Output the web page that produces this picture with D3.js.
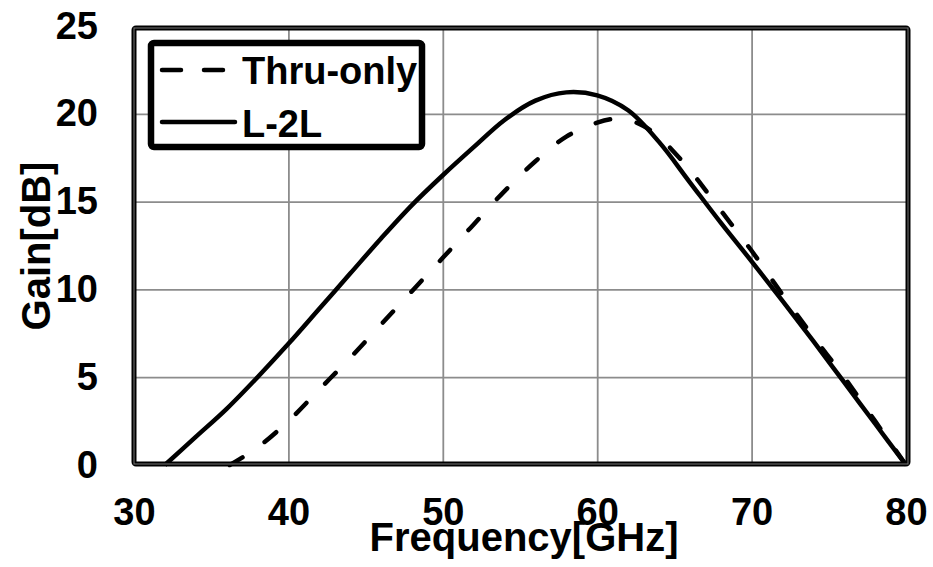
<!DOCTYPE html>
<html>
<head>
<meta charset="utf-8">
<script src="https://cdn.jsdelivr.net/npm/d3@7"></script>
<style>
  body { margin: 0; background: #ffffff; }
  text { font-family: "Liberation Sans", Arial, sans-serif; font-weight: bold; fill: #000; }
</style>
</head>
<body>
<div id="container"></div>
<script>
/* DATA */
const freqL2L = [32, 34, 36, 38, 40, 42, 44, 46, 48, 50, 52, 54, 56, 58, 60, 62, 64, 66, 68, 70, 72, 74, 76, 78, 80];
const gainL2L = [0, 1.6, 3.2, 5.0, 6.9, 8.9, 10.9, 12.9, 14.8, 16.5, 18.1, 19.65, 20.75, 21.22, 21.05, 20.2, 18.4, 16.1, 13.8, 11.6, 9.35, 7.05, 4.7, 2.35, 0];

const freqThru = [36.2, 38, 40, 42, 44, 46, 48, 50, 52, 54, 56, 58, 60, 61, 62, 63, 64, 65, 66, 68, 70, 72, 74, 76, 78, 80];
const gainThru = [0, 1.0, 2.5, 4.3, 6.1, 8.0, 9.9, 11.8, 13.7, 15.6, 17.3, 18.7, 19.5, 19.7, 19.65, 19.3, 18.7, 17.8, 16.8, 14.5, 12.2, 9.7, 7.3, 5.0, 2.5, 0];

const xTicks = [30, 40, 50, 60, 70, 80];
const yTicks = [0, 5, 10, 15, 20, 25];
const seriesNames = ["Thru-only", "L-2L"];

/* CONSTANTS AND GLOBALS */
const width = 933,
  height = 567,
  plot = { left: 134, right: 906, top: 26, bottom: 465 };

const svg = d3.select("#container")
  .append("svg")
  .attr("width", width)
  .attr("height", height);

/* SCALES */
const xScale = d3.scaleLinear().domain([30, 80]).range([plot.left, plot.right]);
const yScale = d3.scaleLinear().domain([0, 25]).range([plot.bottom, plot.top]);

/* GRIDLINES */
svg.append("g")
  .attr("transform", `translate(0, ${plot.bottom})`)
  .call(d3.axisBottom(xScale).tickValues(xTicks.slice(1, -1)).tickSize(-(plot.bottom - plot.top)).tickFormat(""))
  .call(g => g.select(".domain").remove())
  .call(g => g.selectAll("line").attr("stroke", "#8c8c8c").attr("stroke-width", 1.8));

svg.append("g")
  .attr("transform", `translate(${plot.left}, 0)`)
  .call(d3.axisLeft(yScale).tickValues(yTicks.slice(1, -1)).tickSize(-(plot.right - plot.left)).tickFormat(""))
  .call(g => g.select(".domain").remove())
  .call(g => g.selectAll("line").attr("stroke", "#8c8c8c").attr("stroke-width", 1.8));

/* TICK LABELS */
svg.append("g")
  .attr("transform", `translate(0, ${plot.bottom})`)
  .call(d3.axisBottom(xScale).tickValues(xTicks).tickSize(0).tickPadding(33))
  .call(g => g.select(".domain").remove())
  .call(g => g.selectAll("text").style("font-size", "38px").attr("fill", "#000"));

svg.append("g")
  .attr("transform", `translate(${plot.left}, 0)`)
  .call(d3.axisLeft(yScale).tickValues(yTicks).tickSize(0).tickPadding(36))
  .call(g => g.select(".domain").remove())
  .call(g => g.selectAll("text").style("font-size", "38px").attr("fill", "#000"));

/* AXIS TITLES */
svg.append("text")
  .attr("x", 524)
  .attr("y", 551)
  .attr("text-anchor", "middle")
  .style("font-size", "40px")
  .text("Frequency[GHz]");

svg.append("text")
  .attr("transform", "translate(50, 246) rotate(-90)")
  .attr("text-anchor", "middle")
  .style("font-size", "40px")
  .text("Gain[dB]");

/* LINES */
const line = d3.line()
  .x(d => xScale(d[0]))
  .y(d => yScale(d[1]))
  .curve(d3.curveCatmullRom.alpha(0.5));

svg.append("path")
  .datum(freqThru.map((f, i) => [f, gainThru[i]]))
  .attr("d", line)
  .attr("fill", "none")
  .attr("stroke", "#000")
  .attr("stroke-width", 4.5)
  .attr("stroke-linecap", "round")
  .attr("stroke-dasharray", "15,27");

svg.append("path")
  .datum(freqL2L.map((f, i) => [f, gainL2L[i]]))
  .attr("d", line)
  .attr("fill", "none")
  .attr("stroke", "#000")
  .attr("stroke-width", 4.5);

/* PLOT FRAME */
svg.append("rect")
  .attr("x", plot.left)
  .attr("y", plot.top + 2)
  .attr("width", plot.right + 2 - plot.left)
  .attr("height", plot.bottom - 1 - plot.top - 2)
  .attr("fill", "none")
  .attr("stroke", "#000")
  .attr("stroke-width", 5)
  .attr("rx", 2);

svg.append("rect")
  .attr("x", plot.left)
  .attr("y", plot.top + 2)
  .attr("width", plot.right + 2 - plot.left)
  .attr("height", plot.bottom - 1 - plot.top - 2)
  .attr("fill", "none")
  .attr("stroke", "#777")
  .attr("stroke-width", 1);

/* LEGEND */
const legend = svg.append("g");
legend.append("rect")
  .attr("x", 151).attr("y", 43)
  .attr("width", 271).attr("height", 104)
  .attr("fill", "#fff")
  .attr("stroke", "#000")
  .attr("stroke-width", 6.5)
  .attr("rx", 3);

legend.append("line")
  .attr("x1", 162).attr("x2", 228).attr("y1", 70).attr("y2", 70)
  .attr("stroke", "#000").attr("stroke-width", 4.5)
  .attr("stroke-linecap", "round")
  .attr("stroke-dasharray", "19,23");

legend.append("line")
  .attr("x1", 162).attr("x2", 235).attr("y1", 122).attr("y2", 122)
  .attr("stroke", "#000").attr("stroke-width", 4.5)
  .attr("stroke-linecap", "round");

legend.selectAll("text.legend")
  .data(seriesNames)
  .join("text")
  .attr("class", "legend")
  .attr("x", 242)
  .attr("y", (d, i) => 84 + i * 53)
  .style("font-size", "38px")
  .text(d => d);
</script>
</body>
</html>
